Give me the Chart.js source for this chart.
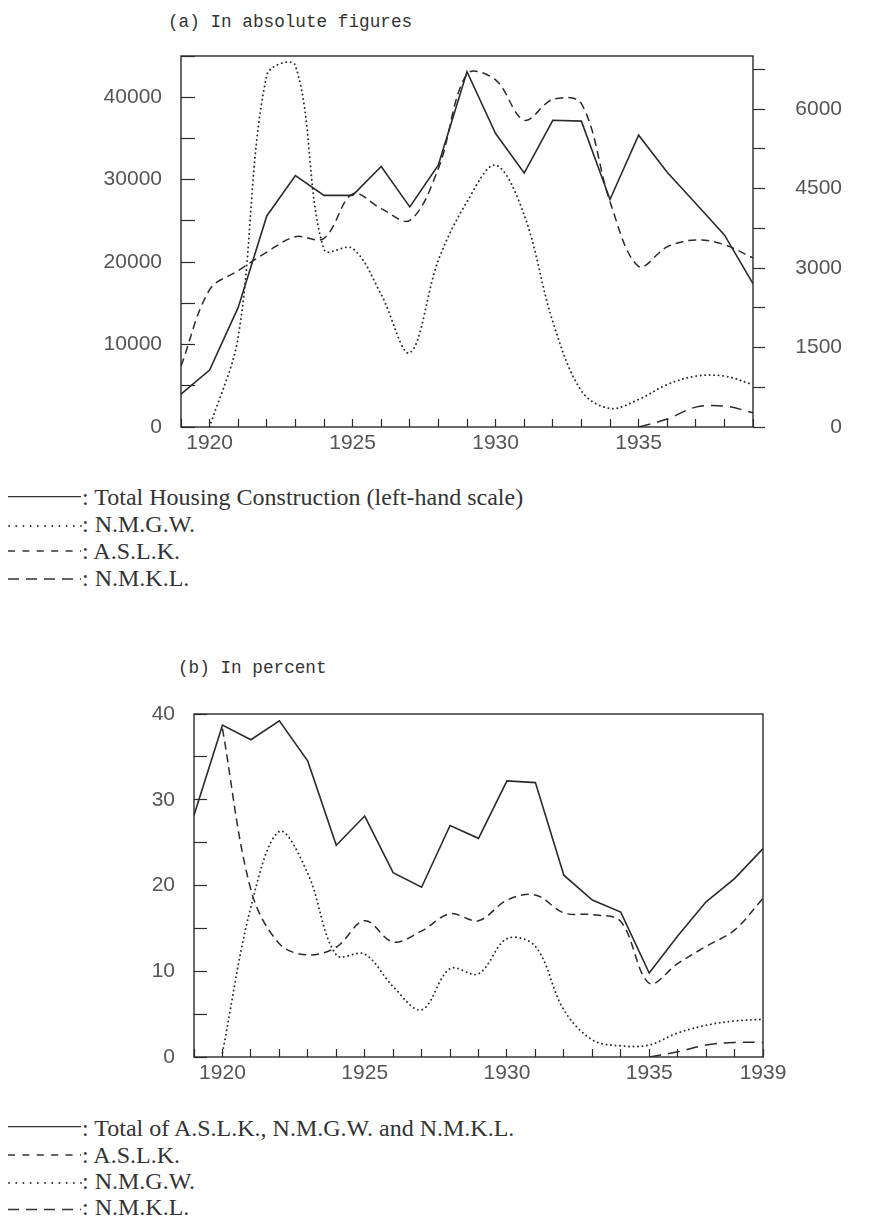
<!DOCTYPE html>
<html>
<head>
<meta charset="utf-8">
<title>Housing construction 1919-1939</title>
<script src="https://cdn.jsdelivr.net/npm/chart.js@4.4.0/dist/chart.umd.min.js"></script>
<style>
    html, body { margin: 0; padding: 0; background: #fff; }
    #page { position: relative; width: 874px; height: 1222px; overflow: hidden; }
    .title { position: absolute; font-family: 'Liberation Mono', monospace; font-size: 17.7px; line-height: 20px; color: #333; white-space: nowrap; }
    canvas { position: absolute; left: 0; }
    .leg { position: absolute; left: 8px; font-family: 'Liberation Serif', serif; font-size: 24px; line-height: 27px; color: #333; white-space: nowrap; }
    .leg svg { vertical-align: top; }
</style>
</head>
<body>
<div id="page">
    <div class="title" style="left:168px; top:12px;">(a) In absolute figures</div>
    <canvas id="chartAbs" width="874" height="430" style="top:30px;"></canvas>

    <div class="leg" style="top:484px;"><svg width="74" height="27"><line x1="0" y1="12.6" x2="73" y2="12.6" stroke="#333" stroke-width="1.4"/></svg>: Total Housing Construction (left-hand scale)</div>
    <div class="leg" style="top:511px;"><svg width="74" height="27"><line x1="1" y1="15" x2="73" y2="15" stroke="#333" stroke-width="1.8" stroke-dasharray="0.1 7.1" stroke-linecap="round"/></svg>: N.M.G.W.</div>
    <div class="leg" style="top:538px;"><svg width="74" height="27"><line x1="0" y1="13" x2="73" y2="13" stroke="#333" stroke-width="1.4" stroke-dasharray="7 7.4"/></svg>: A.S.L.K.</div>
    <div class="leg" style="top:565px;"><svg width="74" height="27"><line x1="0" y1="14" x2="73" y2="14" stroke="#333" stroke-width="1.4" stroke-dasharray="11 7"/></svg>: N.M.K.L.</div>

    <div class="title" style="left:178px; top:658px;">(b) In percent</div>
    <canvas id="chartPct" width="874" height="400" style="top:690px;"></canvas>

    <div class="leg" style="top:1115px;"><svg width="74" height="27"><line x1="0" y1="11.6" x2="73" y2="11.6" stroke="#333" stroke-width="1.4"/></svg>: Total of A.S.L.K., N.M.G.W. and N.M.K.L.</div>
    <div class="leg" style="top:1142px;"><svg width="74" height="27"><line x1="0" y1="13" x2="73" y2="13" stroke="#333" stroke-width="1.4" stroke-dasharray="7 7.4"/></svg>: A.S.L.K.</div>
    <div class="leg" style="top:1168px;"><svg width="74" height="27"><line x1="1" y1="15" x2="73" y2="15" stroke="#333" stroke-width="1.8" stroke-dasharray="0.1 7.1" stroke-linecap="round"/></svg>: N.M.G.W.</div>
    <div class="leg" style="top:1194px;"><svg width="74" height="27"><line x1="0" y1="15.5" x2="73" y2="15.5" stroke="#333" stroke-width="1.4" stroke-dasharray="11 7"/></svg>: N.M.K.L.</div>
</div>

<script>
// years on the x axis
const years = [1919, 1920, 1921, 1922, 1923, 1924, 1925, 1926, 1927, 1928, 1929,
               1930, 1931, 1932, 1933, 1934, 1935, 1936, 1937, 1938, 1939];

// (a) absolute figures - total on left scale, the three institutions on right scale
const totalAbs = [4000, 6900, 14500, 25600, 30500, 28100, 28100, 31600, 26700, 31800, 43100,
                  35600, 30800, 37200, 37100, 27600, 35400, 30900, 27100, 23300, 17400];
const nmgwAbs  = [null, 0, 1700, 6640, 6820, 3350, 3370, 2500, 1400, 3150, 4250,
                  4940, 4000, 1990, 680, 350, 520, 800, 960, 960, 800];
const aslkAbs  = [1150, 2590, 2950, 3300, 3590, 3560, 4400, 4120, 3900, 4880, 6660,
                  6550, 5790, 6180, 6100, 4250, 3030, 3400, 3530, 3440, 3190];
const nmklAbs  = [null, null, null, null, null, null, null, null, null, null, null,
                  null, null, null, null, null, 0, 150, 375, 395, 270];

// (b) in percent
const totalPct = [28.2, 38.7, 37.0, 39.2, 34.5, 24.7, 28.1, 21.5, 19.8, 27.0, 25.5,
                  32.2, 32.0, 21.2, 18.3, 16.9, 9.8, 14.1, 18.1, 20.8, 24.3];
const aslkPct  = [null, 38.3, 19.5, 13.2, 11.9, 12.8, 15.9, 13.4, 14.7, 16.7, 15.9,
                  18.3, 18.9, 16.8, 16.6, 15.8, 8.6, 10.9, 12.9, 14.8, 18.5];
const nmgwPct  = [null, 0.5, 17.5, 26.3, 21.4, 11.9, 12.0, 8.2, 5.5, 10.3, 9.7,
                  13.8, 12.9, 5.5, 2.0, 1.3, 1.4, 2.8, 3.7, 4.2, 4.4];
const nmklPct  = [null, null, null, null, null, null, null, null, null, null, null,
                  null, null, null, null, null, 0, 0.6, 1.4, 1.7, 1.7];

// tick values
const leftTicksAbs  = [0, 5000, 10000, 15000, 20000, 25000, 30000, 35000, 40000, 45000];
const rightTicksAbs = [0, 750, 1500, 2250, 3000, 3750, 4500, 5250, 6000, 6750];
const ticksPct      = [0, 5, 10, 15, 20, 25, 30, 35, 40];
const yearLabelsAbs = [1920, 1925, 1930, 1935];
const yearLabelsPct = [1920, 1925, 1930, 1935, 1939];

const INK = '#2b2b2b';
const LABEL = '#555';
const tickFont = { family: "'Liberation Sans', Arial, sans-serif", size: 21 };

// draws the box round the plot
const frame = {
    id: 'frame',
    beforeDatasetsDraw(chart) {
        const { ctx, chartArea: a } = chart;
        ctx.save();
        ctx.strokeStyle = INK;
        ctx.lineWidth = 1.4;
        ctx.strokeRect(a.left, a.top, a.right - a.left, a.bottom - a.top);
        ctx.restore();
    }
};

function line(data, axis, dash, tension, width) {
    return {
        data: data,
        yAxisID: axis,
        borderColor: INK,
        borderWidth: width || 1.5,
        borderDash: dash,
        borderCapStyle: dash.length && dash[0] < 1 ? 'round' : 'butt',
        tension: tension,
        pointRadius: 0,
        fill: false
    };
}

// scale size is fixed by hand so the plot lands where the scan has it
function fixBox(s, size) {
    if (s.isHorizontal()) s.height = size; else s.width = size;
    s.paddingTop = 0;
    s.paddingBottom = 0;
    s.paddingLeft = 0;
    s.paddingRight = 0;
}

function xAxis(shown) {
    return {
        type: 'category',
        grid: { drawOnChartArea: false, tickLength: -8, color: INK, tickWidth: 1.2 },
        border: { display: false },
        ticks: {
            autoSkip: false, maxRotation: 0, padding: 12, color: LABEL, font: tickFont,
            callback: (v, i) => shown.includes(years[i]) ? String(years[i]) : ''
        },
        afterFit: s => fixBox(s, 33)
    };
}

function yAxis(position, values, max, labelEvery, width, tickLength, padding, crossAlign) {
    return {
        position: position,
        min: values[0],
        max: max,
        grid: { drawOnChartArea: false, tickLength: tickLength, color: INK, tickWidth: 1.2 },
        border: { display: false },
        ticks: {
            autoSkip: false, padding: padding, crossAlign: crossAlign, color: LABEL, font: tickFont,
            callback: v => v % labelEvery === 0 ? String(v) : ''
        },
        afterBuildTicks: s => { s.ticks = values.map(v => ({ value: v })); },
        afterFit: s => fixBox(s, width)
    };
}

new Chart(document.getElementById('chartAbs'), {
    type: 'line',
    data: {
        labels: years.map(String),
        datasets: [
            line(totalAbs, 'y', [], 0, 1.6),
            line(nmgwAbs, 'y1', [0.1, 4.4], 0.35, 1.9),
            line(aslkAbs, 'y1', [8, 5], 0.35),
            line(nmklAbs, 'y1', [12, 7], 0.35)
        ]
    },
    options: {
        responsive: false,
        animation: false,
        layout: { padding: { top: 26, left: 0, right: 32, bottom: 0 } },
        plugins: { legend: { display: false }, tooltip: { enabled: false } },
        scales: {
            x: xAxis(yearLabelsAbs),
            y: yAxis('left', leftTicksAbs, 45000, 10000, 181, -14, 33, 'near'),
            y1: yAxis('right', rightTicksAbs, 7000, 1500, 89, 12, 30, 'far')
        }
    },
    plugins: [frame]
});

new Chart(document.getElementById('chartPct'), {
    type: 'line',
    data: {
        labels: years.map(String),
        datasets: [
            line(totalPct, 'y', [], 0, 1.6),
            line(aslkPct, 'y', [8, 5], 0.35),
            line(nmgwPct, 'y', [0.1, 4.4], 0.35, 1.9),
            line(nmklPct, 'y', [12, 7], 0.35)
        ]
    },
    options: {
        responsive: false,
        animation: false,
        layout: { padding: { top: 24, left: 0, right: 111, bottom: 0 } },
        plugins: { legend: { display: false }, tooltip: { enabled: false } },
        scales: {
            x: xAxis(yearLabelsPct),
            y: yAxis('left', ticksPct, 40, 10, 194, -13, 32, 'near')
        }
    },
    plugins: [frame]
});
</script>
</body>
</html>
